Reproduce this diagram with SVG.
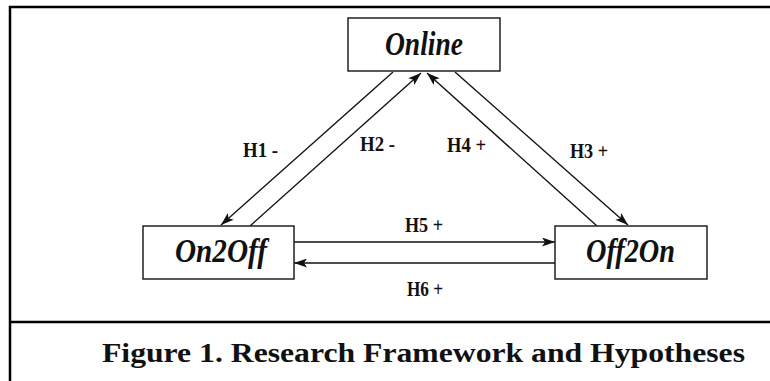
<svg xmlns="http://www.w3.org/2000/svg" width="770" height="381" viewBox="0 0 770 381">
<style>
.frame{fill:none;stroke:#000;stroke-width:2.5}
.box{fill:#fff;stroke:#222;stroke-width:1.5}
.node{font-family:'Liberation Serif','Times New Roman',serif;font-weight:700;font-style:italic;font-size:33px;fill:#111}
.lbl{font-family:'Liberation Serif','Times New Roman',serif;font-weight:700;font-size:20px;fill:#111}
.cap{font-family:'Liberation Serif','Times New Roman',serif;font-weight:700;font-size:27px;fill:#111}
.edge{stroke:#111;stroke-width:1.4;fill:none}
</style>
<defs>
<marker id="ah" viewBox="0 0 13 9" refX="13" refY="4.5" markerWidth="13" markerHeight="9" markerUnits="userSpaceOnUse" orient="auto">
<path d="M0,0 L13,4.5 L0,9 L3,4.5 Z" fill="#111"/>
</marker>
</defs>
<rect width="770" height="381" fill="#fff"/>
<g id="frame">
<path class="frame" d="M10,381 V7 H772"/>
<line class="frame" x1="10" y1="322" x2="772" y2="322"/>
</g>
<g id="connectors">
<line class="edge" x1="393" y1="72" x2="221" y2="225" marker-end="url(#ah)"/>
<line class="edge" x1="250" y1="226" x2="421" y2="73" marker-end="url(#ah)"/>
<line class="edge" x1="455" y1="72" x2="628" y2="225" marker-end="url(#ah)"/>
<line class="edge" x1="597" y1="226" x2="427" y2="73" marker-end="url(#ah)"/>
<line class="edge" x1="294" y1="242" x2="555" y2="242" marker-end="url(#ah)"/>
<line class="edge" x1="555" y1="263" x2="294" y2="263" marker-end="url(#ah)"/>
</g>
<g id="labels">
<text class="lbl" x="243" y="157" textLength="35" lengthAdjust="spacingAndGlyphs">H1 -</text>
<text class="lbl" x="360" y="151" textLength="35" lengthAdjust="spacingAndGlyphs">H2 -</text>
<text class="lbl" x="447" y="152" textLength="39" lengthAdjust="spacingAndGlyphs">H4 +</text>
<text class="lbl" x="570" y="158" textLength="38" lengthAdjust="spacingAndGlyphs">H3 +</text>
<text class="lbl" x="405" y="232" textLength="38" lengthAdjust="spacingAndGlyphs">H5 +</text>
<text class="lbl" x="407" y="296" textLength="36" lengthAdjust="spacingAndGlyphs">H6 +</text>
</g>
<g id="online">
<rect class="box" x="348" y="18" width="152" height="53"/>
<text class="node" x="385" y="55" textLength="78" lengthAdjust="spacingAndGlyphs">Online</text>
</g>
<g id="on2off">
<rect class="box" x="143" y="226" width="151" height="53"/>
<text class="node" x="175" y="262" textLength="92" lengthAdjust="spacingAndGlyphs">On2Off</text>
</g>
<g id="off2on">
<rect class="box" x="555" y="226" width="152" height="53"/>
<text class="node" x="586" y="262" textLength="89" lengthAdjust="spacingAndGlyphs">Off2On</text>
</g>
<g id="caption">
<text class="cap" x="102" y="362" textLength="643" lengthAdjust="spacingAndGlyphs">Figure 1. Research Framework and Hypotheses</text>
</g>
</svg>
